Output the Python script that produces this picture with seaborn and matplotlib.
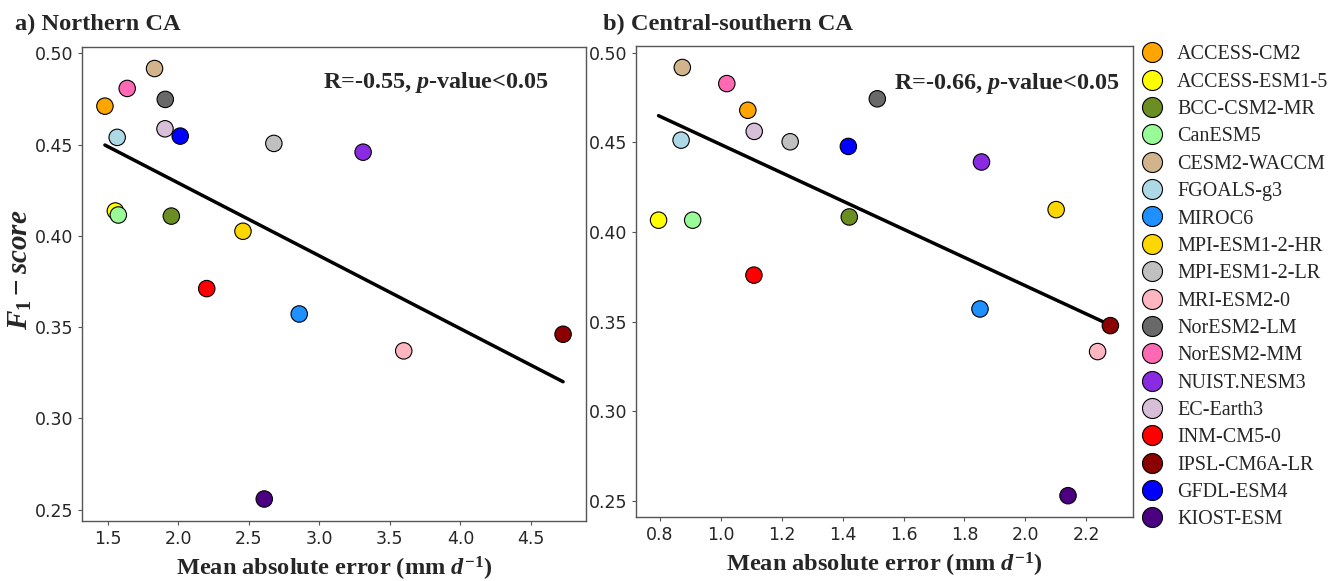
import numpy as np
import pandas as pd
import matplotlib
matplotlib.use("Agg")
import matplotlib.pyplot as plt
from matplotlib.lines import Line2D
import seaborn as sns

models = ["ACCESS-CM2", "ACCESS-ESM1-5", "BCC-CSM2-MR", "CanESM5", "CESM2-WACCM",
          "FGOALS-g3", "MIROC6", "MPI-ESM1-2-HR", "MPI-ESM1-2-LR", "MRI-ESM2-0",
          "NorESM2-LM", "NorESM2-MM", "NUIST.NESM3", "EC-Earth3", "INM-CM5-0",
          "IPSL-CM6A-LR", "GFDL-ESM4", "KIOST-ESM"]
colors = ["#FFA500", "#FFFF00", "#6B8E23", "#98FB98", "#D2B48C",
          "#ADD8E6", "#1E90FF", "#FFD700", "#C0C0C0", "#FFB6C1",
          "#696969", "#FF69B4", "#8A2BE2", "#D8BFD8", "#FF0000",
          "#8B0000", "#0000FF", "#4B0082"]

# a) Northern CA
mae_north = [1.479, 1.553, 1.950, 1.574, 1.831, 1.566, 2.857, 2.458, 2.677, 3.598,
             1.907, 1.637, 3.310, 1.905, 2.201, 4.728, 2.013, 2.609]
f1_north = [0.471, 0.4136, 0.4108, 0.4114, 0.4916, 0.4539, 0.3572, 0.4025, 0.4506, 0.337,
            0.4747, 0.4807, 0.4458, 0.4586, 0.3711, 0.3461, 0.4546, 0.2559]

# b) Central-southern CA
mae_south = [1.089, 0.796, 1.422, 0.908, 0.874, 0.870, 1.851, 2.101, 1.228, 2.237,
             1.514, 1.020, 1.856, 1.110, 1.109, 2.279, 1.419, 2.140]
f1_south = [0.468, 0.4066, 0.4084, 0.4066, 0.4919, 0.4513, 0.357, 0.4125, 0.4504, 0.3332,
            0.4744, 0.4829, 0.4391, 0.4562, 0.3759, 0.3477, 0.4478, 0.2527]

panel_titles = ["a) Northern CA", "b) Central-southern CA"]
stats_text = ["R=-0.55, $p$-value<0.05", "R=-0.66, $p$-value<0.05"]

palette = dict(zip(models, colors))
north = pd.DataFrame({"model": models, "mae": mae_north, "f1": f1_north})
south = pd.DataFrame({"model": models, "mae": mae_south, "f1": f1_south})

sns.set_style("white", {"axes.edgecolor": "#555555"})
plt.rcParams["font.family"] = ["DejaVu Sans"]
plt.rcParams["mathtext.fontset"] = "custom"
plt.rcParams["mathtext.rm"] = "Liberation Serif:bold"
plt.rcParams["mathtext.bf"] = "Liberation Serif:bold"
plt.rcParams["mathtext.it"] = "Liberation Serif:bold:italic"

fig = plt.figure(figsize=(13.4, 5.81), dpi=100)
ax1 = fig.add_axes([0.0612, 0.1041, 0.3761, 0.815])
ax2 = fig.add_axes([0.4746, 0.110, 0.3709, 0.8107])

serif_bold = {"family": "Liberation Serif", "weight": "bold"}
text_pos = [(0.925, 0.924), (0.974, 0.921)]
title_x = [15 / 1340, 603 / 1340]

for i, (ax, df) in enumerate([(ax1, north), (ax2, south)]):
    sns.scatterplot(data=df, x="mae", y="f1", hue="model", palette=palette,
                    s=140, edgecolor="black", linewidth=0.8, legend=False,
                    ax=ax, zorder=3)
    sns.regplot(data=df, x="mae", y="f1", scatter=False, ci=None, ax=ax,
                line_kws={"color": "black", "lw": 2.5, "zorder": 2})
    ax.set_xlabel("Mean absolute error (mm $d^{-1}$)", fontdict=serif_bold,
                  fontsize=17.6, labelpad=5)
    ax.set_ylabel("")
    ax.tick_params(axis="both", labelsize=12.5, length=3, width=0.8,
                   color="#555555", bottom=True, left=True)
    for sp in ax.spines.values():
        sp.set_linewidth(1.0)
    ax.text(text_pos[i][0], text_pos[i][1], stats_text[i], transform=ax.transAxes,
            ha="right", va="center", fontdict=serif_bold, fontsize=17.4)
    fig.text(title_x[i], 0.958, panel_titles[i], ha="left", va="center",
             fontdict=serif_bold, fontsize=17.6)

ax1.set_ylabel("$F_1-score$", fontsize=21)
ax1.yaxis.set_label_coords(-0.095, 0.53)
ax1.set_yticks([0.25, 0.30, 0.35, 0.40, 0.45, 0.50])
ax2.set_yticks([0.25, 0.30, 0.35, 0.40, 0.45, 0.50])

handles = [Line2D([0], [0], marker="o", linestyle="", markersize=14.4,
                  markerfacecolor=c, markeredgecolor="black", markeredgewidth=0.8)
           for c in colors]
fig.legend(handles, models, loc="upper left", bbox_to_anchor=(1142 / 1340, 0.922),
           frameon=False, prop={"family": "Liberation Serif", "size": 14.5},
           handlelength=1.0, handletextpad=0.75, labelspacing=0.41,
           borderpad=0, borderaxespad=0)

fig.savefig("out.png", dpi=100)
